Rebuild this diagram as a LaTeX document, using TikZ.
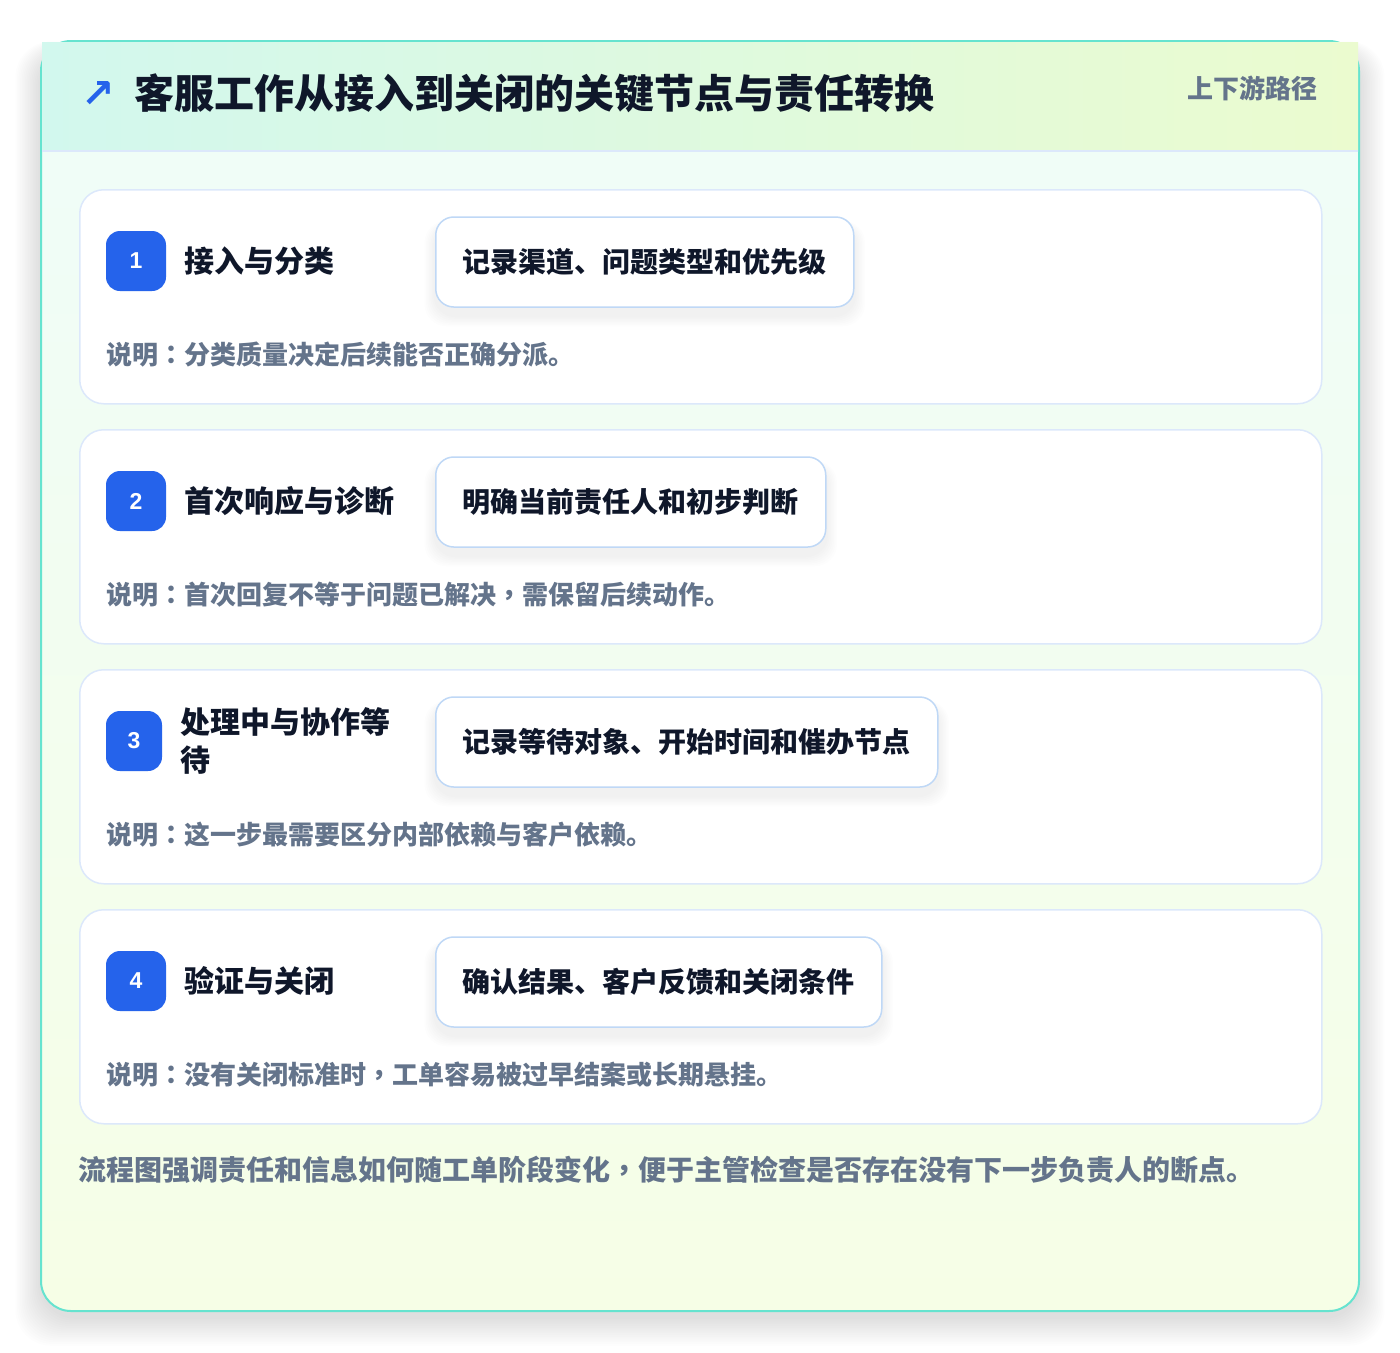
\documentclass[tikz,border=0pt]{standalone}
\usepackage{fontspec}
\setmainfont{Noto Sans CJK SC}
\newfontfamily\symbolfont{DejaVu Sans}
\newfontfamily\digitfont{Liberation Sans}
\newfontfamily\punctfont{Noto Sans CJK TC}
\usetikzlibrary{positioning}
\pgfdeclarelayer{back}
\pgfdeclarelayer{mid}
\pgfsetlayers{back,mid,main}
\definecolor{frameteal}{HTML}{66E3CF}
\definecolor{headleft}{HTML}{D2F8EE}
\definecolor{headright}{HTML}{EBFBCF}
\definecolor{bodytop}{HTML}{EFFDF9}
\definecolor{bodybottom}{HTML}{F6FEE6}
\definecolor{cardline}{HTML}{DCE8FB}
\definecolor{pillline}{HTML}{BFD8F6}
\definecolor{badgeblue}{HTML}{2563EB}
\definecolor{ink}{HTML}{0F172A}
\definecolor{slate}{HTML}{64748B}
\newcommand{\cn}{{\punctfont ：}}
\newcommand{\cm}{{\punctfont ，}}
\begin{document}
\begin{tikzpicture}[
			x=1pt,y=-1pt,
			stepcard/.style={draw=cardline,line width=1.5pt,fill=white,rounded corners=24pt,
					anchor=north west,minimum width=1242pt,minimum height=214pt,inner sep=0pt},
			badge/.style={fill=badgeblue,rounded corners=14pt,text=white,inner sep=0pt,
					minimum height=60pt,font=\digitfont\bfseries\fontsize{23}{23}\selectfont},
			steptitle/.style={inner sep=0pt,text width=225pt,align=left,text=ink,
					font=\bfseries\fontsize{30}{38}\selectfont},
			pill/.style={draw=pillline,line width=1.5pt,fill=white,rounded corners=18pt,anchor=west,
					minimum height=90pt,inner xsep=27pt,text=ink,font=\bfseries\fontsize{28}{28}\selectfont},
			memo/.style={anchor=west,inner sep=0pt,text=slate,font=\bfseries\fontsize{26}{26}\selectfont}
		]
		\useasboundingbox (0,0) rectangle (1400,1352);
		\begin{pgfonlayer}{back}
			\fill[white] (0,0) rectangle (1400,1352);
			% soft shadow of the frame
			\foreach \k in {1,...,16}
			\fill[black,opacity=0.006,rounded corners=36pt] (41-\k*1.6,41-\k*0.6+10) rectangle (1359+\k*1.6,1311+\k*1.8+6);
			\begin{scope}
				\clip[rounded corners=30pt] (41,41) rectangle (1359,1311);
				\shade[top color=bodytop,bottom color=bodybottom] (41,41) rectangle (1359,1311);
			\end{scope}
			\draw[frameteal,line width=2pt,rounded corners=30pt] (41,41) rectangle (1359,1311);
			\shade[left color=headleft,right color=headright] (42,42.5) rectangle (1358,151);
			\draw[cardline,line width=1.5pt] (42,151) -- (1358,151);
		\end{pgfonlayer}

		\node[text=badgeblue,font=\symbolfont\bfseries\fontsize{40}{40}\selectfont] (arrow) at (98,94) {↗};
		\node[anchor=west,inner sep=0pt,text=ink,font=\bfseries\fontsize{40}{40}\selectfont] (heading) at (134,93)
		{客服工作从接入到关闭的关键节点与责任转换};
		\node[anchor=east,inner sep=0pt,text=slate,font=\bfseries\fontsize{26}{26}\selectfont] (tag) at (1318,88) {上下游路径};

		\foreach \i/\bw/\stage/\duty/\note in {
				1/60/{接入与分类}/{记录渠道、问题类型和优先级}/{说明\cn 分类质量决定后续能否正确分派。},
				2/60/{首次响应与诊断}/{明确当前责任人和初步判断}/{说明\cn 首次回复不等于问题已解决\cm 需保留后续动作。},
				3/56/{处理中与协作等\\待}/{记录等待对象、开始时间和催办节点}/{说明\cn 这一步最需要区分内部依赖与客户依赖。},
				4/60/{验证与关闭}/{确认结果、客户反馈和关闭条件}/{说明\cn 没有关闭标准时\cm 工单容易被过早结案或长期悬挂。}
			}{
				\pgfmathsetmacro\cardtop{189+240*(\i-1)}
				\begin{pgfonlayer}{back}
					\node[stepcard] (card\i) at (79,\cardtop) {};
				\end{pgfonlayer}
				\node[badge,minimum width=\bw pt] (badge\i) at (106+\bw/2,\cardtop+72) {\i};
				\node[steptitle,right=18pt of badge\i] (stage\i) {\stage};
				\node[pill] (duty\i) at (435,\cardtop+73) {\duty};
				\node[memo] (note\i) at (106,\cardtop+166) {\note};
				\begin{pgfonlayer}{mid}
					\foreach \k in {1,...,7}
					\fill[black,opacity=0.006,rounded corners=22pt] ([shift={(-\k*1.5,-\k*0.5+8)}]duty\i.north west)
					rectangle ([shift={(\k*1.5,\k*1.5+8)}]duty\i.south east);
				\end{pgfonlayer}
			}

		\node[memo,font=\bfseries\fontsize{28}{28}\selectfont] (summary) at (78,1170)
		{流程图强调责任和信息如何随工单阶段变化\cm 便于主管检查是否存在没有下一步负责人的断点。};
	\end{tikzpicture}
\end{document}
